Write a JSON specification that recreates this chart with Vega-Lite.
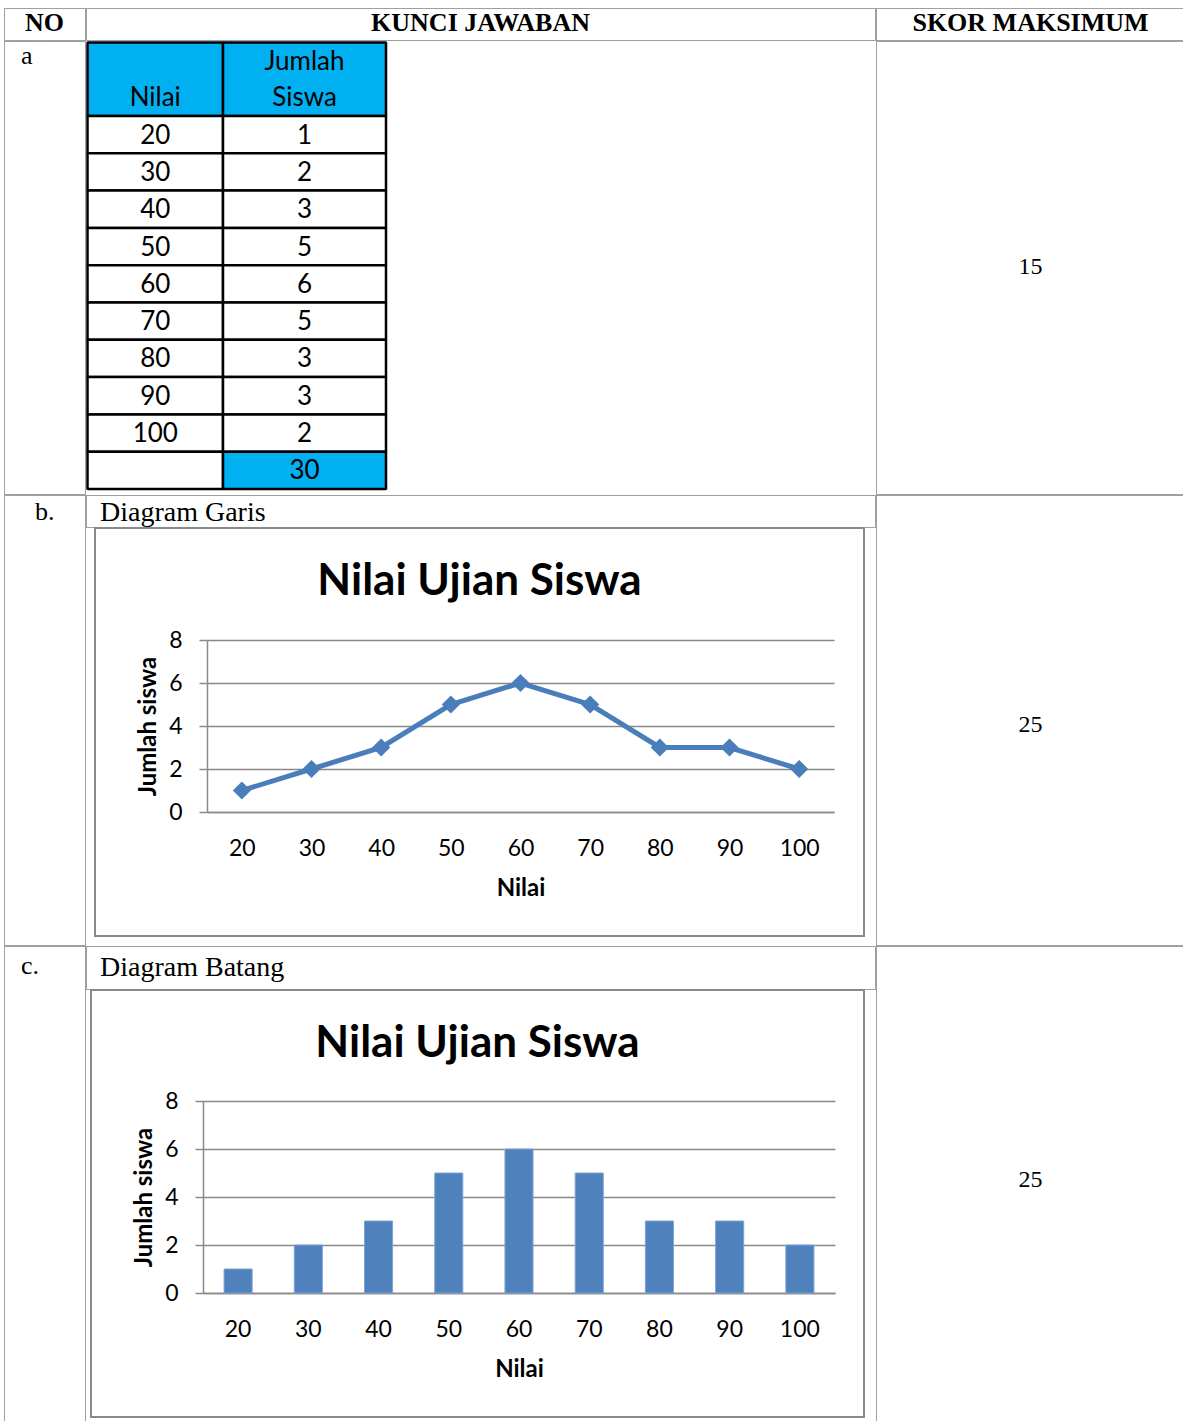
{
  "$schema": "https://vega.github.io/schema/vega-lite/v6.json",
  "padding": {"left": 3, "top": 7, "right": 0, "bottom": 0},
  "background": "white",
  "spacing": -2,
  "config": {
    "view": {"stroke": null},
    "text": {"color": "black"}
  },
  "datasets": {
    "tabel": [
      {"Nilai": "20", "Jumlah Siswa": 1},
      {"Nilai": "30", "Jumlah Siswa": 2},
      {"Nilai": "40", "Jumlah Siswa": 3},
      {"Nilai": "50", "Jumlah Siswa": 5},
      {"Nilai": "60", "Jumlah Siswa": 6},
      {"Nilai": "70", "Jumlah Siswa": 5},
      {"Nilai": "80", "Jumlah Siswa": 3},
      {"Nilai": "90", "Jumlah Siswa": 3},
      {"Nilai": "100", "Jumlah Siswa": 2},
      {"Nilai": "", "Jumlah Siswa": 30}
    ]
  },
  "vconcat": [
    {
      "spacing": -2,
      "hconcat": [
        {"width": 81, "height": 32, "view": {"stroke": "#404040", "strokeWidth": 1, "strokeDash": [1, 1]},
         "data": {"values": [{"teks": "NO"}]},
         "mark": {"type": "text", "font": "Liberation Serif", "fontSize": 26, "fontWeight": "bold", "dy": -1},
         "encoding": {"text": {"field": "teks", "type": "nominal"}}},
        {"width": 789, "height": 32, "view": {"stroke": "#404040", "strokeWidth": 1, "strokeDash": [1, 1]},
         "data": {"values": [{"teks": "KUNCI JAWABAN"}]},
         "mark": {"type": "text", "font": "Liberation Serif", "fontSize": 26, "fontWeight": "bold", "dy": -1},
         "encoding": {"text": {"field": "teks", "type": "nominal"}}},
        {"width": 309, "height": 32, "view": {"stroke": "#404040", "strokeWidth": 1, "strokeDash": [1, 1]},
         "data": {"values": [{"teks": "SKOR MAKSIMUM"}]},
         "mark": {"type": "text", "font": "Liberation Serif", "fontSize": 26, "fontWeight": "bold", "dy": -1},
         "encoding": {"text": {"field": "teks", "type": "nominal"}}}
      ]
    },
    {
      "spacing": -2,
      "hconcat": [
        {"width": 81, "height": 453, "view": {"stroke": "#404040", "strokeWidth": 1, "strokeDash": [1, 1]},
         "data": {"values": [{"teks": "a"}]},
         "mark": {"type": "text", "font": "Liberation Serif", "fontSize": 26, "align": "left", "baseline": "alphabetic", "dx": -23.5, "dy": -203.5},
         "encoding": {"text": {"field": "teks", "type": "nominal"}}},
        {
          "width": 790, "height": 453,
          "resolve": {"scale": {"x": "independent", "y": "independent"}},
          "layer": [
            {
              "data": {"values": [{"kolom": "Nilai"}]},
              "encoding": {
                "x": {"field": "kolom", "type": "nominal", "scale": {"range": [1.5, 137], "paddingInner": 0, "paddingOuter": 0}, "axis": null},
                "y": {"field": "kolom", "type": "nominal", "scale": {"range": [1.5, 75], "paddingInner": 0, "paddingOuter": 0}, "axis": null}
              },
              "layer": [
                {"mark": {"type": "rect", "fill": "#00B0F0", "stroke": "black", "strokeWidth": 2.5, "strokeJoin": "bevel"}},
                {"mark": {"type": "text", "font": "Lato", "fontSize": 26, "dy": 19}, "encoding": {"text": {"field": "kolom", "type": "nominal"}}}
              ]
            },
            {
              "data": {"values": [{"kolom": "Jumlah Siswa"}]},
              "encoding": {
                "x": {"field": "kolom", "type": "nominal", "scale": {"range": [137, 300], "paddingInner": 0, "paddingOuter": 0}, "axis": null},
                "y": {"field": "kolom", "type": "nominal", "scale": {"range": [1.5, 75], "paddingInner": 0, "paddingOuter": 0}, "axis": null}
              },
              "layer": [
                {"mark": {"type": "rect", "fill": "#00B0F0", "stroke": "black", "strokeWidth": 2.5, "strokeJoin": "bevel"}},
                {"mark": {"type": "text", "font": "Lato", "fontSize": 26, "lineBreak": " ", "lineHeight": 36, "dy": -17}, "encoding": {"text": {"field": "kolom", "type": "nominal"}}}
              ]
            },
            {
              "data": {"name": "tabel"},
              "encoding": {
                "x": {"datum": "Nilai", "type": "nominal", "scale": {"range": [1.5, 137], "paddingInner": 0, "paddingOuter": 0}, "axis": null},
                "y": {"field": "Nilai", "type": "nominal", "sort": null, "scale": {"range": [75, 448], "paddingInner": 0, "paddingOuter": 0}, "axis": null}
              },
              "layer": [
                {"mark": {"type": "rect", "fill": "white", "stroke": "black", "strokeWidth": 2.5, "strokeJoin": "bevel"}},
                {"mark": {"type": "text", "font": "Lato", "fontSize": 26, "dy": 1}, "encoding": {"text": {"field": "Nilai", "type": "nominal"}}}
              ]
            },
            {
              "data": {"name": "tabel"},
              "encoding": {
                "x": {"datum": "Jumlah Siswa", "type": "nominal", "scale": {"range": [137, 300], "paddingInner": 0, "paddingOuter": 0}, "axis": null},
                "y": {"field": "Nilai", "type": "nominal", "sort": null, "scale": {"range": [75, 448], "paddingInner": 0, "paddingOuter": 0}, "axis": null}
              },
              "layer": [
                {"mark": {"type": "rect", "stroke": "black", "strokeWidth": 2.5, "strokeJoin": "bevel"},
                 "encoding": {"fill": {"condition": {"test": "datum.Nilai === ''", "value": "#00B0F0"}, "value": "white"}}},
                {"mark": {"type": "text", "font": "Lato", "fontSize": 26, "dy": 1}, "encoding": {"text": {"field": "Jumlah Siswa", "type": "quantitative"}}}
              ]
            }
          ]
        },
        {"width": 309, "height": 453, "view": {"stroke": "#404040", "strokeWidth": 1, "strokeDash": [1, 1]},
         "data": {"values": [{"teks": "15"}]},
         "mark": {"type": "text", "font": "Liberation Serif", "fontSize": 24, "dy": -0.5},
         "encoding": {"text": {"field": "teks", "type": "nominal"}}}
      ]
    },
    {
      "spacing": -2,
      "hconcat": [
        {"width": 81, "height": 450, "view": {"stroke": "#404040", "strokeWidth": 1, "strokeDash": [1, 1]},
         "data": {"values": [{"teks": "b."}]},
         "mark": {"type": "text", "font": "Liberation Serif", "fontSize": 26, "align": "left", "baseline": "alphabetic", "dx": -9.5, "dy": -200},
         "encoding": {"text": {"field": "teks", "type": "nominal"}}},
        {
          "spacing": -3,
          "vconcat": [
            {"width": 789, "height": 32, "view": {"stroke": "#404040", "strokeWidth": 1, "strokeDash": [1, 1]},
             "data": {"values": [{"teks": "Diagram Garis"}]},
             "mark": {"type": "text", "font": "Liberation Serif", "fontSize": 28, "align": "left", "baseline": "alphabetic", "dx": -380.5, "dy": 10},
             "encoding": {"text": {"field": "teks", "type": "nominal"}}},
            {
              "spacing": 0,
              "hconcat": [
                {"width": 8, "height": 408, "data": {"values": [{}]}, "mark": {"type": "rect", "opacity": 0}},
                {
                  "width": 769, "height": 408,
                  "view": {"stroke": "#898989", "strokeWidth": 2},
                  "layer": [
                    {
                      "data": {"name": "tabel"},
                      "transform": [{"filter": "datum.Nilai !== ''"}],
                      "encoding": {
                        "x": {"field": "Nilai", "type": "nominal", "sort": null,
                              "scale": {"type": "point", "padding": 0.5, "range": [112, 739]},
                              "axis": {"title": "Nilai", "offset": -124, "labelAngle": 0, "ticks": false, "tickSize": 0, "domainColor": "#898989", "domainWidth": 1.5, "labelFont": "Lato", "labelFontSize": 23, "labelColor": "black", "labelPadding": 25, "titleFont": "Lato", "titleFontSize": 24, "titleFontWeight": "bold", "titleColor": "black", "titlePadding": 16, "grid": false}},
                        "y": {"field": "Jumlah Siswa", "type": "quantitative",
                              "scale": {"domain": [0, 8], "nice": false, "range": [284, 112]},
                              "axis": {"title": "Jumlah siswa", "offset": -112, "values": [0, 2, 4, 6, 8], "grid": true, "gridColor": "#898989", "gridWidth": 1.5, "domainColor": "#898989", "domainWidth": 1.5, "tickColor": "#898989", "tickWidth": 1.5, "tickSize": 8, "labelFont": "Lato", "labelFontSize": 23, "labelColor": "black", "labelPadding": 17, "titleFont": "Lato", "titleFontSize": 24, "titleFontWeight": "bold", "titleColor": "black", "titlePadding": 8}}
                      },
                      "layer": [
                        {"mark": {"type": "line", "color": "#4A7EBB", "strokeWidth": 5}},
                        {"mark": {"type": "point", "shape": "diamond", "filled": true, "size": 330, "color": "#4A7EBB", "opacity": 1}}
                      ]
                    },
                    {
                      "data": {"values": [{"judul": "Nilai Ujian Siswa"}]},
                      "mark": {"type": "text", "font": "Lato", "fontSize": 44, "fontWeight": "bold", "dy": -150},
                      "encoding": {"text": {"field": "judul", "type": "nominal"}}
                    }
                  ]
                }
              ]
            }
          ]
        },
        {"width": 309, "height": 450, "view": {"stroke": "#404040", "strokeWidth": 1, "strokeDash": [1, 1]},
         "data": {"values": [{"teks": "25"}]},
         "mark": {"type": "text", "font": "Liberation Serif", "fontSize": 24, "dy": 5},
         "encoding": {"text": {"field": "teks", "type": "nominal"}}}
      ]
    },
    {
      "spacing": -2,
      "hconcat": [
        {"width": 81, "height": 480, "view": {"stroke": "#404040", "strokeWidth": 1, "strokeDash": [1, 1]},
         "data": {"values": [{"teks": "c."}]},
         "mark": {"type": "text", "font": "Liberation Serif", "fontSize": 26, "align": "left", "baseline": "alphabetic", "dx": -23.5, "dy": -212},
         "encoding": {"text": {"field": "teks", "type": "nominal"}}},
        {
          "spacing": -3,
          "vconcat": [
            {"width": 789, "height": 43, "view": {"stroke": "#404040", "strokeWidth": 1, "strokeDash": [1, 1]},
             "data": {"values": [{"teks": "Diagram Batang"}]},
             "mark": {"type": "text", "font": "Liberation Serif", "fontSize": 28, "align": "left", "baseline": "alphabetic", "dx": -380.5, "dy": 8.5},
             "encoding": {"text": {"field": "teks", "type": "nominal"}}},
            {
              "spacing": 0,
              "hconcat": [
                {"width": 4, "height": 427, "data": {"values": [{}]}, "mark": {"type": "rect", "opacity": 0}},
                {
                  "width": 773, "height": 427,
                  "view": {"stroke": "#898989", "strokeWidth": 2},
                  "layer": [
                    {
                      "data": {"name": "tabel"},
                      "transform": [{"filter": "datum.Nilai !== ''"}],
                      "mark": {"type": "bar", "color": "#4F81BD", "stroke": "#7FA3D6", "strokeWidth": 1},
                      "encoding": {
                        "x": {"field": "Nilai", "type": "nominal", "sort": null,
                              "scale": {"type": "band", "paddingInner": 0.6, "paddingOuter": 0.3, "range": [112, 744]},
                              "axis": {"title": "Nilai", "offset": -124, "labelAngle": 0, "ticks": false, "tickSize": 0, "domainColor": "#898989", "domainWidth": 1.5, "labelFont": "Lato", "labelFontSize": 23, "labelColor": "black", "labelPadding": 25, "titleFont": "Lato", "titleFontSize": 24, "titleFontWeight": "bold", "titleColor": "black", "titlePadding": 16, "grid": false}},
                        "y": {"field": "Jumlah Siswa", "type": "quantitative",
                              "scale": {"domain": [0, 8], "nice": false, "range": [303, 111]},
                              "axis": {"title": "Jumlah siswa", "offset": -112, "values": [0, 2, 4, 6, 8], "grid": true, "gridColor": "#898989", "gridWidth": 1.5, "domainColor": "#898989", "domainWidth": 1.5, "tickColor": "#898989", "tickWidth": 1.5, "tickSize": 8, "labelFont": "Lato", "labelFontSize": 23, "labelColor": "black", "labelPadding": 17, "titleFont": "Lato", "titleFontSize": 24, "titleFontWeight": "bold", "titleColor": "black", "titlePadding": 8}}
                      }
                    },
                    {
                      "data": {"values": [{"judul": "Nilai Ujian Siswa"}]},
                      "mark": {"type": "text", "font": "Lato", "fontSize": 44, "fontWeight": "bold", "dy": -160},
                      "encoding": {"text": {"field": "judul", "type": "nominal"}}
                    }
                  ]
                }
              ]
            }
          ]
        },
        {"width": 309, "height": 480, "view": {"stroke": "#404040", "strokeWidth": 1, "strokeDash": [1, 1]},
         "data": {"values": [{"teks": "25"}]},
         "mark": {"type": "text", "font": "Liberation Serif", "fontSize": 24, "dy": -6},
         "encoding": {"text": {"field": "teks", "type": "nominal"}}}
      ]
    }
  ]
}
